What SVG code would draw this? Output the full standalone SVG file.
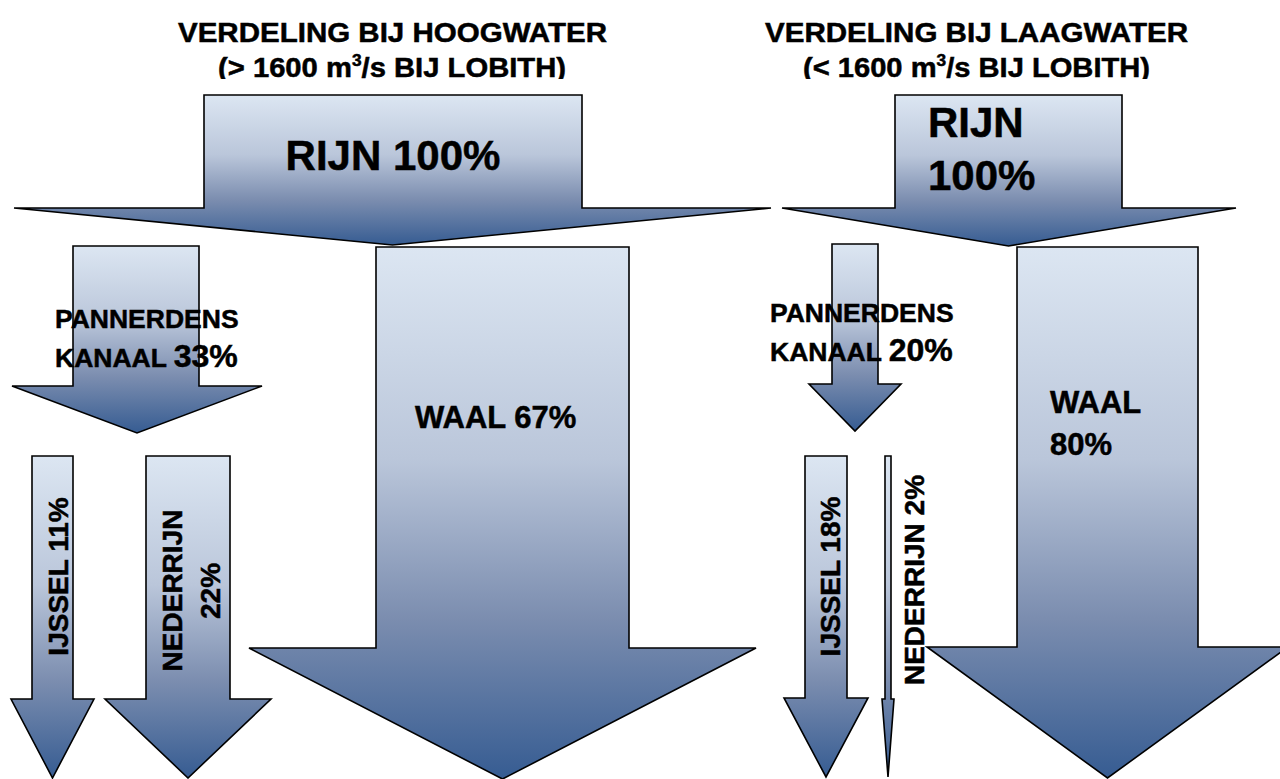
<svg xmlns="http://www.w3.org/2000/svg" width="1280" height="779" viewBox="0 0 1280 779">
<defs>
<linearGradient id="blue" x1="0" y1="0" x2="0" y2="1">
<stop offset="0" stop-color="#dce6f2"/>
<stop offset="0.4" stop-color="#bac6da"/>
<stop offset="0.7" stop-color="#7b8daf"/>
<stop offset="1" stop-color="#365c92"/>
</linearGradient>
<clipPath id="clipTitle"><rect x="0" y="0" width="1280" height="79"/></clipPath>
<style>
.arrow{fill:url(#blue);stroke:#000;stroke-width:1.6;stroke-linejoin:miter}
text{font-family:"Liberation Sans",Arial,sans-serif;font-weight:bold;fill:#000;stroke:#000;stroke-width:0.5}
.title{font-size:27px;text-anchor:middle}
.big{font-size:42px}
.mid{font-size:31px}
.lbl{font-size:26.5px}
.pct{font-size:32px}
.rot{font-size:28px;text-anchor:middle}
</style>
</defs>
<g id="titles">
<text class="title" x="392.5" y="42" textLength="429" lengthAdjust="spacingAndGlyphs">VERDELING BIJ HOOGWATER</text>
<text class="title" x="976.5" y="42" textLength="423" lengthAdjust="spacingAndGlyphs">VERDELING BIJ LAAGWATER</text>
<g clip-path="url(#clipTitle)">
<text class="title" x="392" y="77" textLength="348" lengthAdjust="spacingAndGlyphs">(&gt; 1600 m<tspan font-size="16" dy="-11">3</tspan><tspan dy="11">/s BIJ LOBITH)</tspan></text>
<text class="title" x="976.5" y="77" textLength="347" lengthAdjust="spacingAndGlyphs">(&lt; 1600 m<tspan font-size="16" dy="-11">3</tspan><tspan dy="11">/s BIJ LOBITH)</tspan></text>
</g>
</g>
<g id="connectors">
<polygon id="rijn-hw-arrow" class="arrow" points="204,95 582,95 582,208 771,208 392.5,245 14,208 204,208"/>
<polygon id="rijn-lw-arrow" class="arrow" points="895,95 1122,95 1122,208 1236,208 1008.5,246 782,208 895,208"/>
<polygon id="pannerdens-hw-arrow" class="arrow" points="73,246 199,246 199,386 262,386 137,433 12,386 73,386"/>
<polygon id="waal-hw-arrow" class="arrow" points="376,247 629,247 629,648 756,648 502.5,779 249,648 376,648"/>
<polygon id="ijssel-hw-arrow" class="arrow" points="32,456 73,456 73,699 94,699 52.5,778 11,699 32,699"/>
<polygon id="nederrijn-hw-arrow" class="arrow" points="146,456 230,456 230,699 271,699 188,778 105,699 146,699"/>
<polygon id="pannerdens-lw-arrow" class="arrow" points="832,244 878,244 878,384 901,384 855,431 809,384 832,384"/>
<polygon id="waal-lw-arrow" class="arrow" points="1017,247 1198,247 1198,647 1288,647 1107.5,778 927,647 1017,647"/>
<polygon id="ijssel-lw-arrow" class="arrow" points="805,456 847,456 847,698 868,698 826,777 784,698 805,698"/>
<polygon id="nederrijn-lw-arrow" class="arrow" points="885,456 891,456 891,699 894,699 888,777 882,699 885,699"/>
</g>
<g id="rijn-hw"><text class="big" x="393" y="170" text-anchor="middle">RIJN 100%</text></g>
<g id="rijn-lw"><text class="big" x="928" y="137">RIJN</text><text class="big" x="928" y="190">100%</text></g>
<g id="pannerdens-hw"><text class="lbl" x="55" y="328">PANNERDENS</text><text class="lbl" x="55" y="367">KANAAL <tspan class="pct">33%</tspan></text></g>
<g id="waal-hw"><text class="mid" x="415" y="428">WAAL 67%</text></g>
<g id="ijssel-hw"><text class="rot" transform="translate(68,576.5) rotate(-90)">IJSSEL 11%</text></g>
<g id="nederrijn-hw"><text class="rot" transform="translate(182,590.5) rotate(-90)">NEDERRIJN</text><text class="rot" transform="translate(220,591) rotate(-90)">22%</text></g>
<g id="pannerdens-lw"><text class="lbl" x="770" y="322">PANNERDENS</text><text class="lbl" x="770" y="361">KANAAL <tspan class="pct">20%</tspan></text></g>
<g id="waal-lw"><text class="mid" x="1050" y="413">WAAL</text><text class="mid" x="1050" y="455">80%</text></g>
<g id="ijssel-lw"><text class="rot" transform="translate(840,576.5) rotate(-90)">IJSSEL 18%</text></g>
<g id="nederrijn-lw"><text class="rot" transform="translate(924,580) rotate(-90)">NEDERRIJN 2%</text></g>
</svg>
